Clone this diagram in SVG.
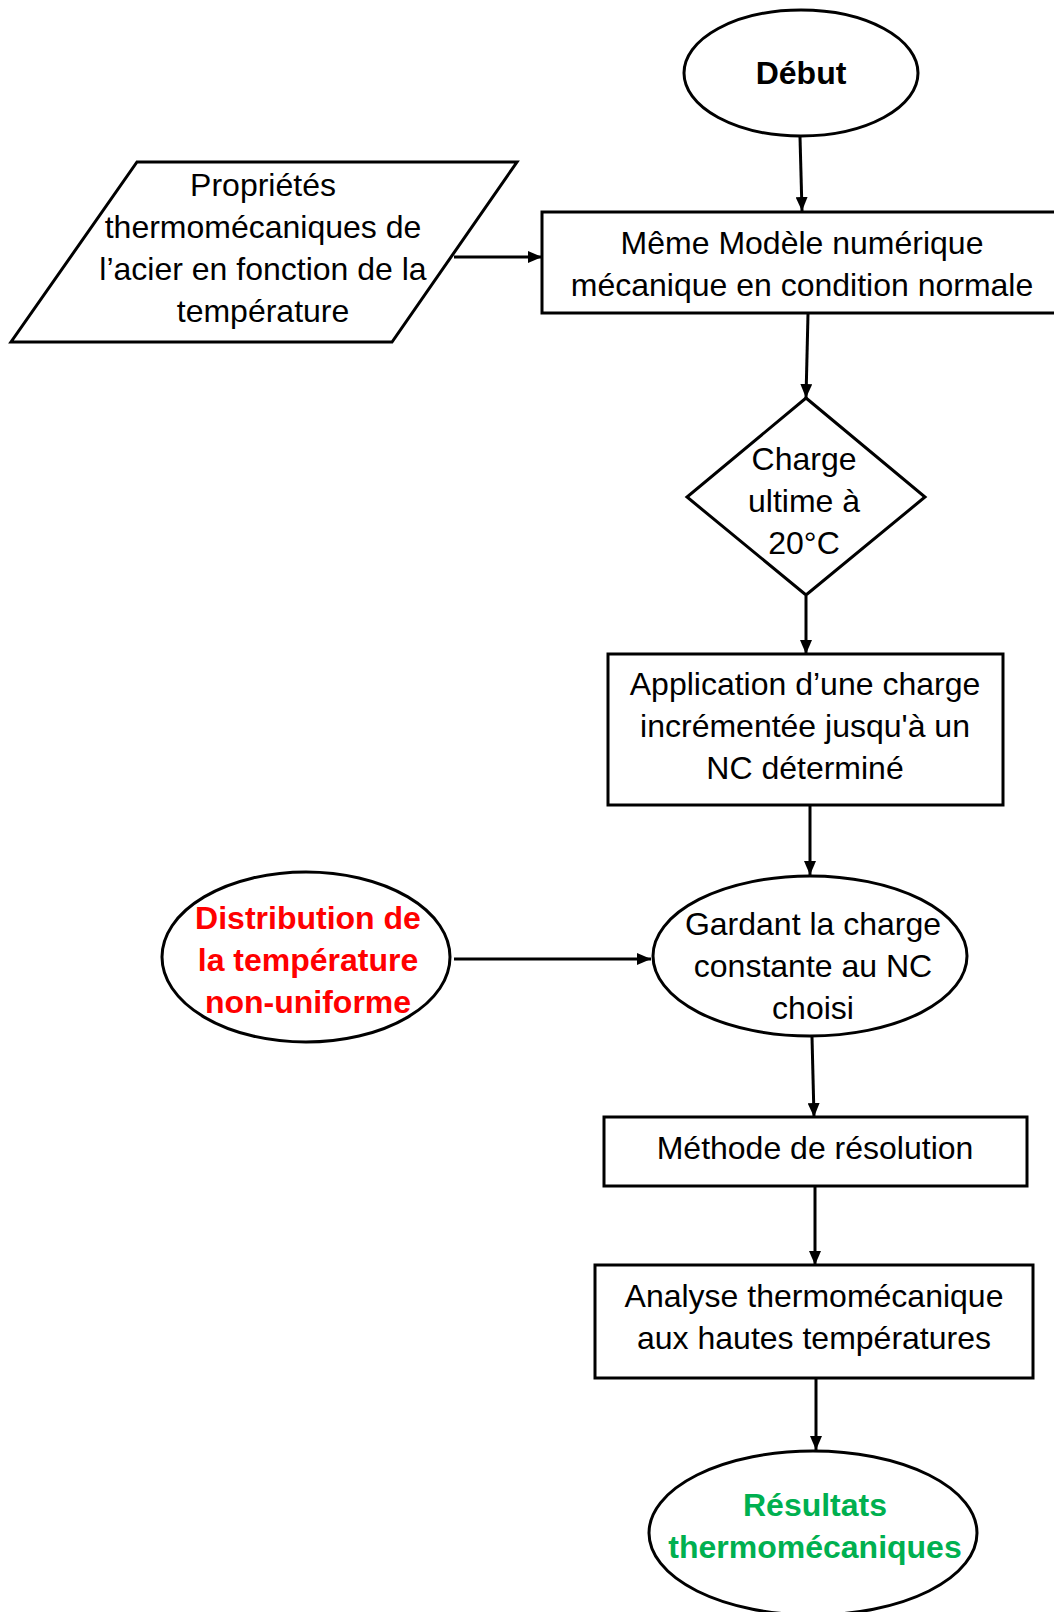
<svg xmlns="http://www.w3.org/2000/svg" width="1054" height="1612" viewBox="0 0 1054 1612">
  <defs>
    <marker id="arrow" viewBox="0 0 14 12" refX="14" refY="6" markerWidth="14" markerHeight="12" markerUnits="userSpaceOnUse" orient="auto">
      <path d="M0,0 L14,6 L0,12 Z" fill="#000"/>
    </marker>
    <style>
      .shape { fill: #fff; stroke: #000; stroke-width: 3; }
      .lbl { font-family: "Liberation Sans", Arial, sans-serif; font-size: 32px; fill: #000; text-anchor: middle; }
      .bold { font-weight: bold; }
      .red { fill: #ff0000; }
      .green { fill: #00b050; }
      .conn { stroke: #000; stroke-width: 3; fill: none; marker-end: url(#arrow); }
    </style>
  </defs>

  <!-- connectors -->
  <g id="connectors">
    <line class="conn" x1="800" y1="137" x2="802" y2="211"/>
    <line class="conn" x1="454" y1="257" x2="542" y2="257"/>
    <line class="conn" x1="808" y1="314" x2="806" y2="398"/>
    <line class="conn" x1="806" y1="596" x2="806" y2="654"/>
    <line class="conn" x1="810" y1="806" x2="810" y2="875"/>
    <line class="conn" x1="454" y1="959" x2="651" y2="959"/>
    <line class="conn" x1="812" y1="1037" x2="814" y2="1117"/>
    <line class="conn" x1="815" y1="1187" x2="815" y2="1265"/>
    <line class="conn" x1="816" y1="1379" x2="816" y2="1450"/>
  </g>

  <!-- start -->
  <g id="debut">
    <ellipse class="shape" cx="801" cy="73" rx="117" ry="63"/>
    <text class="lbl bold" x="801" y="84">Début</text>
  </g>

  <!-- input data -->
  <g id="proprietes">
    <polygon class="shape" points="137,162 517,162 392,342 11,342"/>
    <text class="lbl" x="263" y="196">Propriétés</text>
    <text class="lbl" x="263" y="238">thermomécaniques de</text>
    <text class="lbl" x="263" y="280">l’acier en fonction de la</text>
    <text class="lbl" x="263" y="322">température</text>
  </g>

  <g id="modele">
    <rect class="shape" x="542" y="212" width="516" height="101"/>
    <text class="lbl" x="802" y="254">Même Modèle numérique</text>
    <text class="lbl" x="802" y="296">mécanique en condition normale</text>
  </g>

  <g id="charge-ultime">
    <polygon class="shape" points="806,398 925,497 806,595 687,497"/>
    <text class="lbl" x="804" y="470">Charge</text>
    <text class="lbl" x="804" y="512">ultime à</text>
    <text class="lbl" x="804" y="554">20°C</text>
  </g>

  <g id="application">
    <rect class="shape" x="608" y="654" width="395" height="151"/>
    <text class="lbl" x="805" y="695">Application d’une charge</text>
    <text class="lbl" x="805" y="737">incrémentée jusqu'à un</text>
    <text class="lbl" x="805" y="779">NC déterminé</text>
  </g>

  <g id="distribution">
    <ellipse class="shape" cx="306" cy="957" rx="144" ry="85"/>
    <text class="lbl bold red" x="308" y="929">Distribution de</text>
    <text class="lbl bold red" x="308" y="971">la température</text>
    <text class="lbl bold red" x="308" y="1013">non-uniforme</text>
  </g>

  <g id="gardant">
    <ellipse class="shape" cx="810" cy="956" rx="157" ry="80"/>
    <text class="lbl" x="813" y="935">Gardant la charge</text>
    <text class="lbl" x="813" y="977">constante au NC</text>
    <text class="lbl" x="813" y="1019">choisi</text>
  </g>

  <g id="methode">
    <rect class="shape" x="604" y="1117" width="423" height="69"/>
    <text class="lbl" x="815" y="1159">Méthode de résolution</text>
  </g>

  <g id="analyse">
    <rect class="shape" x="595" y="1265" width="438" height="113"/>
    <text class="lbl" x="814" y="1307">Analyse thermomécanique</text>
    <text class="lbl" x="814" y="1349">aux hautes températures</text>
  </g>

  <g id="resultats">
    <ellipse class="shape" cx="813" cy="1533" rx="164" ry="82"/>
    <text class="lbl bold green" x="815" y="1516">Résultats</text>
    <text class="lbl bold green" x="815" y="1558">thermomécaniques</text>
  </g>
</svg>
